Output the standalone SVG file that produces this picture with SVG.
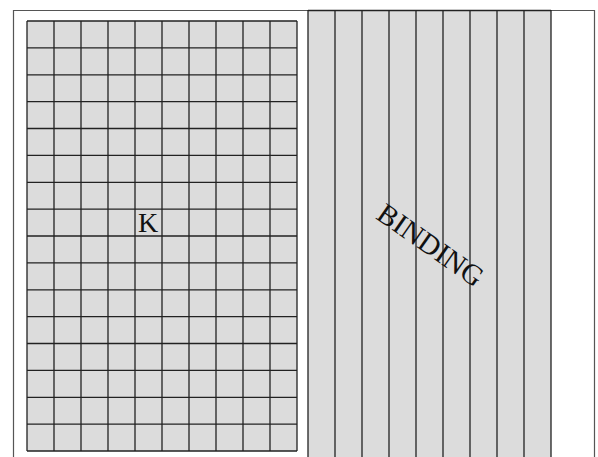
<svg xmlns="http://www.w3.org/2000/svg" width="598" height="457" viewBox="0 0 598 457">
<defs>
<style>
.frame{fill:#ffffff;stroke:#555555;stroke-width:1.2}
.fill{fill:#dcdcdc;stroke:none}
.ln{stroke:#222222;stroke-width:1.3;fill:none}
.lbl{font-family:"Liberation Serif","Times New Roman",serif;fill:#111111}
</style>
</defs>
<rect width="598" height="457" fill="#ffffff"/>
<g id="frame">
<path class="frame" d="M13.5,470 V10.5 H594.5 V470"/>
</g>
<g id="grid-K">
<rect class="fill" x="27" y="21" width="270" height="430"/>
<g class="ln">
<path d="M27,21V451M54,21V451M81,21V451M108,21V451M135,21V451M162,21V451M189,21V451M216,21V451M243,21V451M270,21V451M297,21V451"/>
<path d="M27,21H297M27,47.9H297M27,74.8H297M27,101.6H297M27,128.5H297M27,155.4H297M27,182.3H297M27,209.1H297M27,236H297M27,262.9H297M27,289.8H297M27,316.6H297M27,343.5H297M27,370.4H297M27,397.3H297M27,424.1H297M27,451H297"/>
</g>
<text class="lbl" x="148" y="232" font-size="28" text-anchor="middle">K</text>
</g>
<g id="binding">
<rect class="fill" x="308" y="10.5" width="243" height="460"/>
<g class="ln">
<path d="M308,10.5H551M308,10V470M335,10V470M362,10V470M389,10V470M416,10V470M443,10V470M470,10V470M497,10V470M524,10V470M551,10V470"/>
</g>
<text class="lbl" x="0" y="0" font-size="29" text-anchor="middle" transform="translate(425,253) rotate(35)">BINDING</text>
</g>
</svg>
